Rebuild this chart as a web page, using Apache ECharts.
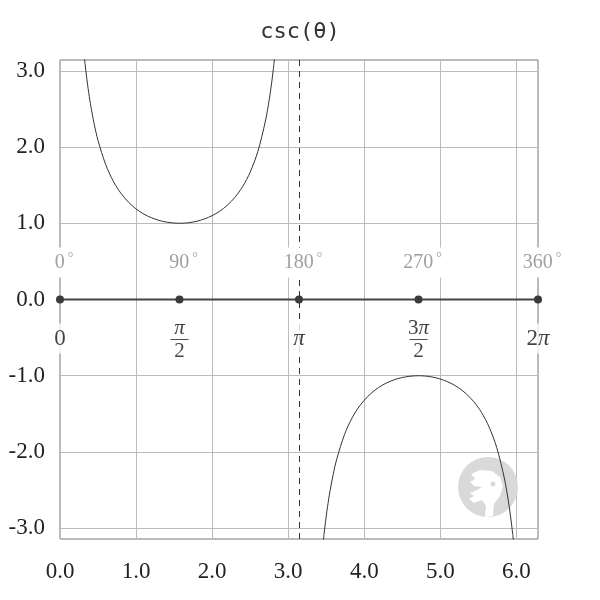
<!DOCTYPE html>
<html><head><meta charset="utf-8">
<script src="https://cdn.jsdelivr.net/npm/echarts@6/dist/echarts.min.js"></script>
<style>html,body{margin:0;padding:0;background:#fff}#c{width:600px;height:600px}</style>
</head><body><div id="c"></div>
<script>
const PI = Math.PI;
const titleText = 'csc(θ)';
const xTicks = [0, 1, 2, 3, 4, 5, 6];
const yTicks = [-3, -2, -1, 0, 1, 2, 3];
const upperX = [0.32, 0.33, 0.35, 0.37, 0.4, 0.45, 0.5, 0.6, 0.7, 0.8, 0.9, 1.0, 1.1, 1.2, 1.3, 1.4, 1.5, 1.5708, 1.6, 1.7, 1.8, 1.9, 2.0, 2.1, 2.2, 2.3, 2.4, 2.5, 2.6, 2.7, 2.75, 2.78, 2.8, 2.81, 2.82];
const upperY = [3.179, 3.086, 2.916, 2.765, 2.568, 2.299, 2.086, 1.771, 1.552, 1.394, 1.277, 1.188, 1.122, 1.073, 1.038, 1.015, 1.003, 1.000, 1.0004, 1.008, 1.027, 1.057, 1.100, 1.158, 1.237, 1.341, 1.480, 1.671, 1.940, 2.340, 2.620, 2.827, 2.985, 3.072, 3.164];
const lowerX = [3.46, 3.47, 3.49, 3.51, 3.54, 3.59, 3.64, 3.74, 3.84, 3.94, 4.04, 4.14, 4.24, 4.34, 4.44, 4.54, 4.64, 4.7124, 4.74, 4.84, 4.94, 5.04, 5.14, 5.24, 5.34, 5.44, 5.54, 5.64, 5.74, 5.84, 5.89, 5.92, 5.94, 5.95, 5.96];
const lowerY = [-3.179, -3.086, -2.916, -2.765, -2.568, -2.299, -2.086, -1.771, -1.552, -1.394, -1.277, -1.188, -1.122, -1.073, -1.038, -1.015, -1.003, -1.000, -1.0004, -1.008, -1.027, -1.057, -1.100, -1.158, -1.237, -1.341, -1.480, -1.671, -1.940, -2.340, -2.620, -2.827, -2.985, -3.072, -3.164];
const markX = [0, PI / 2, PI, 3 * PI / 2, 2 * PI];
const degLabels = ['0', '90', '180', '270', '360'];
const radNum = ['0', 'π', 'π', '3π', '2π'];
const radDen = ['', '2', '', '2', ''];
const asymptoteX = PI;

const SERIF = 'Liberation Serif';
const chart = echarts.init(document.getElementById('c'));
const zip = (xs, ys) => xs.map((x, i) => [x, ys[i]]);
const rt = (str, st) => str.split('').map(ch => '{' + (ch === 'π' ? st + 'i' : st) + '|' + ch + '}').join('');

const radLabelData = markX.map((x, i) => ({
  value: [x, 0],
  label: {
    formatter: radDen[i] ? rt(radNum[i], 'n') + '\n{b|}\n' + rt(radDen[i], 'n') : rt(radNum[i], 's'),
    offset: [0, radDen[i] ? 16 : 24]
  }
}));

chart.setOption({
  animation: false,
  title: {
    text: titleText, left: 'center', top: 16,
    textStyle: { fontFamily: 'DejaVu Sans Mono', fontSize: 22, fontWeight: 'normal', color: '#333' }
  },
  grid: { left: 60, right: 62, top: 60, bottom: 61, show: true, borderColor: '#777', borderWidth: 1, backgroundColor: 'transparent' },
  xAxis: {
    type: 'value', min: 0, max: 2 * PI,
    axisLine: { show: false }, axisTick: { show: false, customValues: xTicks },
    axisLabel: { customValues: xTicks, formatter: v => v.toFixed(1), fontFamily: SERIF, fontSize: 23, color: '#222', margin: 21 },
    splitLine: { show: true, lineStyle: { color: '#bbb', width: 1 } }
  },
  yAxis: {
    type: 'value', min: -PI, max: PI,
    axisLine: { show: false }, axisTick: { show: false, customValues: yTicks },
    axisLabel: { customValues: yTicks, formatter: v => v.toFixed(1), fontFamily: SERIF, fontSize: 23, color: '#222', margin: 15 },
    splitLine: { show: true, lineStyle: { color: '#bbb', width: 1 } }
  },
  series: [
    {
      type: 'line', data: markX.map(x => [x, 0]), symbol: 'circle', symbolSize: 8, showAllSymbol: true,
      lineStyle: { color: '#444', width: 2 }, itemStyle: { color: '#3a3a3a' }, z: 5,
      label: {
        show: true, position: 'top', distance: 18, offset: [4, 0],
        formatter: p => degLabels[p.dataIndex] + '{s|°}',
        fontFamily: SERIF, fontSize: 20, color: '#a0a0a0', backgroundColor: '#fff', padding: [4, 2, 4, 2],
        rich: { s: { fontFamily: SERIF, fontSize: 14, color: '#a0a0a0', padding: [0, 0, 8, 3] } }
      },
      markLine: {
        silent: true, symbol: 'none', label: { show: false },
        lineStyle: { color: '#333', type: [6, 5], width: 1 },
        data: [{ xAxis: asymptoteX }], z: 2
      }
    },
    {
      type: 'scatter', data: radLabelData, symbolSize: 0, z: 6,
      label: {
        show: true, position: 'bottom', distance: 0,
        backgroundColor: '#fff', padding: [3, 3, 3, 3], color: '#111', align: 'center',
        rich: {
          n: { fontFamily: SERIF, fontSize: 21, lineHeight: 19, color: '#111' },
          ni: { fontFamily: SERIF, fontSize: 21, lineHeight: 19, color: '#111', fontStyle: 'italic' },
          s: { fontFamily: SERIF, fontSize: 23, lineHeight: 24, color: '#111' },
          si: { fontFamily: SERIF, fontSize: 23, lineHeight: 24, color: '#111', fontStyle: 'italic' },
          b: { width: 18, height: 1, lineHeight: 4, backgroundColor: '#222', align: 'center' }
        }
      }
    },
    { type: 'line', data: zip(upperX, upperY), symbol: 'none', smooth: 0.3, lineStyle: { color: '#333', width: 1 }, z: 4 },
    { type: 'line', data: zip(lowerX, lowerY), symbol: 'none', smooth: 0.3, lineStyle: { color: '#333', width: 1 }, z: 4 }
  ],
  graphic: [
    { type: 'circle', shape: { cx: 488, cy: 487, r: 30 }, style: { fill: '#d9d9d9' }, z: 1, silent: true },
    { type: 'polygon', shape: { points: [[471, 474], [480, 470], [492, 471], [500, 477], [503, 486], [500, 496], [494, 504], [493, 516], [485, 517], [486, 506], [482, 500], [474, 503], [469, 499], [474, 496], [470, 493], [477, 490], [482, 487], [474, 486], [470, 482], [475, 479]] }, style: { fill: '#fff' }, z: 1, silent: true },
    { type: 'circle', shape: { cx: 493, cy: 484, r: 2.5 }, style: { fill: '#d9d9d9' }, z: 1, silent: true }
  ]
});
</script>
</body></html>
